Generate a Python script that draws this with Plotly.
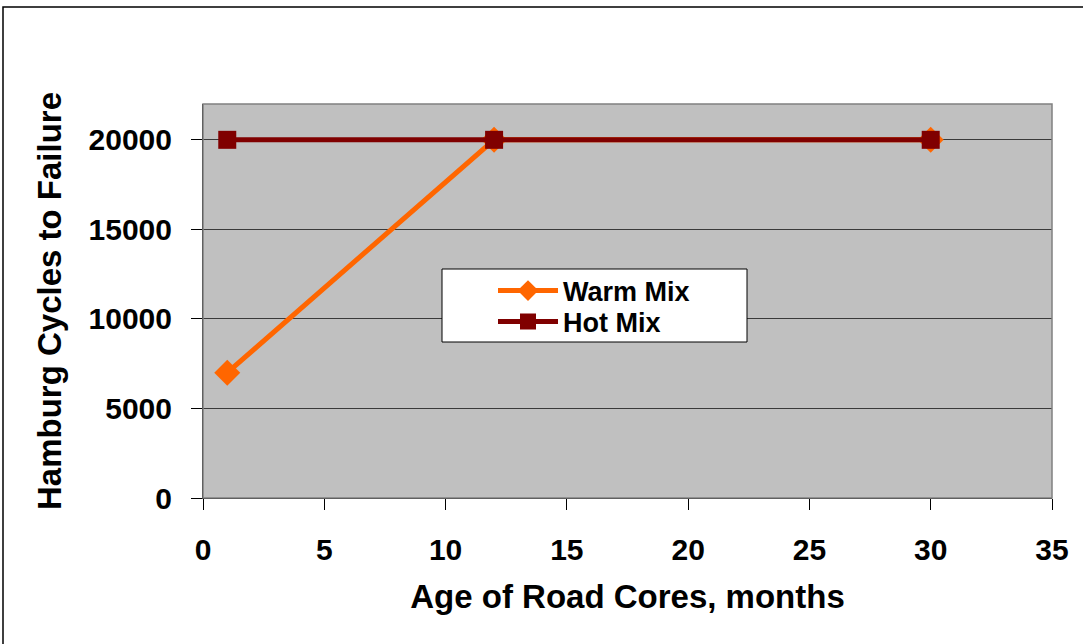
import plotly.graph_objects as go

# Data
age_months = [1, 12, 30]
warm_mix = [7000, 20000, 20000]
hot_mix = [20000, 20000, 20000]
x_ticks = [0, 5, 10, 15, 20, 25, 30, 35]
y_ticks = [0, 5000, 10000, 15000, 20000]

W, H = 1083, 644
L, R, T, B = 203, 31, 104, 146
pw, ph = W - L - R, H - T - B

FONT = "Liberation Sans, Arial, sans-serif"

fig = go.Figure()
fig.add_trace(go.Scatter(
    x=age_months, y=warm_mix, name="<b>Warm Mix</b>", mode="lines+markers",
    line=dict(color="#FF6600", width=5),
    marker=dict(symbol="diamond", size=20, color="#FF6600"),
    legend="legend",
))
fig.add_trace(go.Scatter(
    x=age_months, y=hot_mix, name="<b>Hot Mix</b>", mode="lines+markers",
    line=dict(color="#800000", width=5),
    marker=dict(symbol="square", size=18, color="#800000"),
    legend="legend2",
))

def px_x(p):
    return (p - L) / pw

def px_y(p):
    return (H - B - p) / ph

leg_common = dict(
    xanchor="left", yanchor="middle",
    bgcolor="rgba(0,0,0,0)", borderwidth=0,
    font=dict(size=27, family=FONT, color="black"),
    itemwidth=60,
)

fig.update_layout(
    width=W, height=H,
    margin=dict(l=L, r=R, t=T, b=B, autoexpand=False),
    paper_bgcolor="white",
    plot_bgcolor="#C0C0C0",
    font=dict(family=FONT, color="black"),
    showlegend=True,
    legend=dict(x=px_x(493), y=px_y(291), **leg_common),
    legend2=dict(x=px_x(493), y=px_y(322), **leg_common),
    shapes=[
        # legend box
        dict(type="rect", xref="paper", yref="paper",
             x0=px_x(442), x1=px_x(747), y0=px_y(342), y1=px_y(269),
             fillcolor="white", line=dict(color="black", width=1), layer="above"),
        # plot area border (top/right grey)
        dict(type="rect", xref="paper", yref="paper", x0=0, x1=1, y0=0, y1=1,
             line=dict(color="#808080", width=1.5), layer="above"),
        # outer chart border
        dict(type="rect", xref="paper", yref="paper",
             x0=px_x(3), x1=px_x(1100), y0=px_y(660), y1=px_y(7),
             line=dict(color="black", width=1.5), layer="above"),
    ],
)

fig.update_xaxes(
    range=[0, 35], tickvals=x_ticks, ticktext=[f"<b>{v}</b>" for v in x_ticks],
    showgrid=False, zeroline=False,
    showline=True, linecolor="black", linewidth=1,
    ticks="outside", ticklen=11, tickcolor="black", tickwidth=1,
    tickfont=dict(size=30, family=FONT, color="black"),
    ticklabelstandoff=14,
    title=dict(text="<b>Age of Road Cores, months</b>",
               font=dict(size=33, family=FONT, color="black"), standoff=19),
)
fig.update_yaxes(
    range=[0, 22000], tickvals=y_ticks, ticktext=[f"<b>{v}</b>" for v in y_ticks],
    showgrid=True, gridcolor="#3a3a3a", gridwidth=1, zeroline=False,
    showline=True, linecolor="black", linewidth=1,
    ticks="outside", ticklen=11, tickcolor="black", tickwidth=1,
    tickfont=dict(size=30, family=FONT, color="black"),
    ticklabelstandoff=13,
    title=dict(text="<b>Hamburg Cycles to Failure</b>",
               font=dict(size=33, family=FONT, color="black"), standoff=17),
)

fig.write_html("out.html", config={"displayModeBar": False},
               post_script="document.body.style.margin='0';")
